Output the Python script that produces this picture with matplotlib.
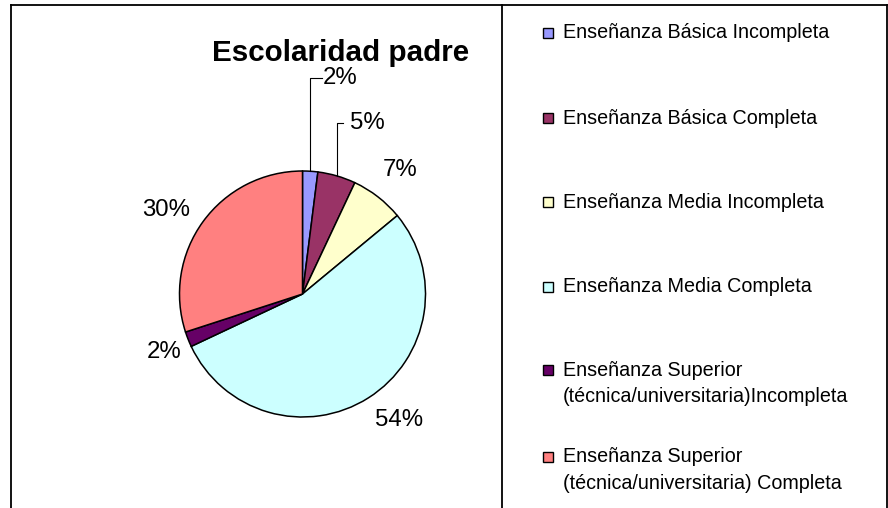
import numpy as np
import matplotlib
matplotlib.use("Agg")
import matplotlib.pyplot as plt
from matplotlib.lines import Line2D
from matplotlib.patches import Rectangle

plt.rcParams['font.family'] = ['Liberation Sans', 'DejaVu Sans']

# ---- data ----
title = "Escolaridad padre"
categories = [
    "Enseñanza Básica Incompleta",
    "Enseñanza Básica Completa",
    "Enseñanza Media Incompleta",
    "Enseñanza Media Completa",
    "Enseñanza Superior\n(técnica/universitaria)Incompleta",
    "Enseñanza Superior\n(técnica/universitaria) Completa",
]
values = [2, 5, 7, 54, 2, 30]
colors = ["#9999FF", "#993366", "#FFFFCC", "#CCFFFF", "#660066", "#FF8080"]

W, H = 888, 508
fig = plt.figure(figsize=(W / 100, H / 100), dpi=100)

# pie axes placed in pixels: center (302.5, 294), radius 123
cx, cy, R = 302.5, 294, 123
ax = fig.add_axes([(cx - R) / W, (H - cy - R) / H, 2 * R / W, 2 * R / H])

wedges, _ = ax.pie(values, colors=colors, startangle=90, counterclock=False,
                   radius=1, wedgeprops=dict(edgecolor='black', linewidth=1.1))
ax.set_xlim(-1, 1)
ax.set_ylim(-1, 1)
ax.set_aspect('auto')
ax.axis('off')

# label placement (layout, in units of the pie radius)
label_pos = {2: (0.793, 1.008), 3: (0.785, -1.024), 4: (-1.126, -0.472), 5: (-1.110, 0.683)}
leader_y = {0: 1.756, 1: 1.39}
leader_end = {0: 0.159, 1: 0.33}
text_x = {0: 0.167, 1: 0.386}
for i, w in enumerate(wedges):
    mid = np.deg2rad((w.theta1 + w.theta2) / 2)
    lab = f"{values[i]}%"
    if i in leader_y:
        x0, y0 = np.cos(mid), np.sin(mid)
        ax.add_line(Line2D([x0, x0, leader_end[i]], [y0, leader_y[i], leader_y[i]],
                           color='black', linewidth=0.8, clip_on=False))
        ax.text(text_x[i], leader_y[i], lab, ha='left', va='center', fontsize=17.3)
    else:
        px, py = label_pos[i]
        ax.text(px, py, lab, ha='center', va='center', fontsize=17.3)

# title
fig.text(341 / W, 1 - 53 / H, title, ha='center', va='center', fontsize=21.3, fontweight='bold')

# frames
def fline(xs, ys, lw=1.3):
    fig.add_artist(Line2D([x / W for x in xs], [1 - y / H for y in ys],
                          color='black', linewidth=lw, transform=fig.transFigure))

fline([10.5, 10.5], [4.5, H + 5])
fline([10.5, 886.5], [4.5, 4.5])
fline([886.5, 886.5], [4.5, H + 5])
fline([501.5, 501.5], [4.5, H + 5])

# legend
leg_y = [33, 118, 202, 287, 370, 457]
line_gap = 26.5
for lab, col, y in zip(categories, colors, leg_y):
    fig.add_artist(Rectangle(((543) / W, 1 - (y + 5) / H), 10 / W, 10 / H,
                             facecolor=col, edgecolor='black', linewidth=1.0,
                             transform=fig.transFigure))
    for k, line in enumerate(lab.split("\n")):
        fig.text(563 / W, 1 - (y + k * line_gap) / H, line, ha='left', va='center', fontsize=14.2)

fig.savefig("out.png", dpi=100)
